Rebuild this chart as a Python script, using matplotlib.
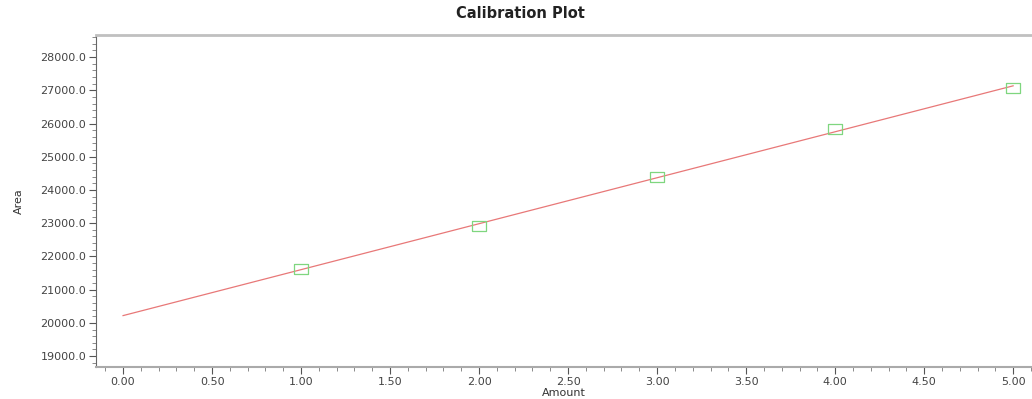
import matplotlib
matplotlib.use("Agg")
import matplotlib.pyplot as plt
import numpy as np
from matplotlib.ticker import MultipleLocator, FormatStrFormatter

# calibration standards
amount = [1.0, 2.0, 3.0, 4.0, 5.0]
area = [21620, 22910, 24400, 25840, 27070]

plt.rcParams["font.family"] = ["DejaVu Sans"]

fig = plt.figure(figsize=(10.32, 3.99), dpi=100)
ax = fig.add_axes([96 / 1032, 0.080, 1 - 96 / 1032, 0.832])

# slightly flattened open box marker
box = [(-1, -0.7), (1, -0.7), (1, 0.7), (-1, 0.7), (-1, -0.7)]

# least-squares calibration line through the standards
slope, intercept = np.polyfit(amount, area, 1)
xs = np.array([0.0, 5.0])
ax.plot(xs, slope * xs + intercept, color="#e87878", lw=0.9, zorder=2)
ax.plot(amount, area, ls="none", marker=box, ms=10.5, mfc="none",
        mec="#7fd67f", mew=0.9, zorder=3, clip_on=False)

ax.set_xlim(-0.152, 5.106)
ax.set_ylim(18670, 28660)

ax.xaxis.set_major_locator(MultipleLocator(0.5))
ax.xaxis.set_minor_locator(MultipleLocator(0.1))
ax.xaxis.set_major_formatter(FormatStrFormatter("%.2f"))
ax.yaxis.set_major_locator(MultipleLocator(1000))
ax.yaxis.set_minor_locator(MultipleLocator(200))
ax.yaxis.set_major_formatter(FormatStrFormatter("%.1f"))

ax.tick_params(which="major", length=5, width=0.8, color="#555555",
               labelsize=8, labelcolor="#444444", pad=2)
ax.tick_params(which="minor", length=3, width=0.6, color="#777777")

ax.spines["right"].set_visible(False)
ax.spines["top"].set_color("#c0c0c0")
ax.spines["top"].set_linewidth(2)
ax.spines["left"].set_color("#666666")
ax.spines["bottom"].set_color("#aaaaaa")
ax.spines["bottom"].set_linewidth(1.5)

ax.set_xlabel("Amount", fontsize=8, color="#333333", labelpad=1)
ax.set_ylabel("Area", fontsize=8, color="#333333", labelpad=12)
fig.text(0.504, 0.967, "Calibration Plot", ha="center", va="center",
         fontsize=10.5, fontweight="bold", color="#222222")

fig.savefig("out.png", dpi=100)
